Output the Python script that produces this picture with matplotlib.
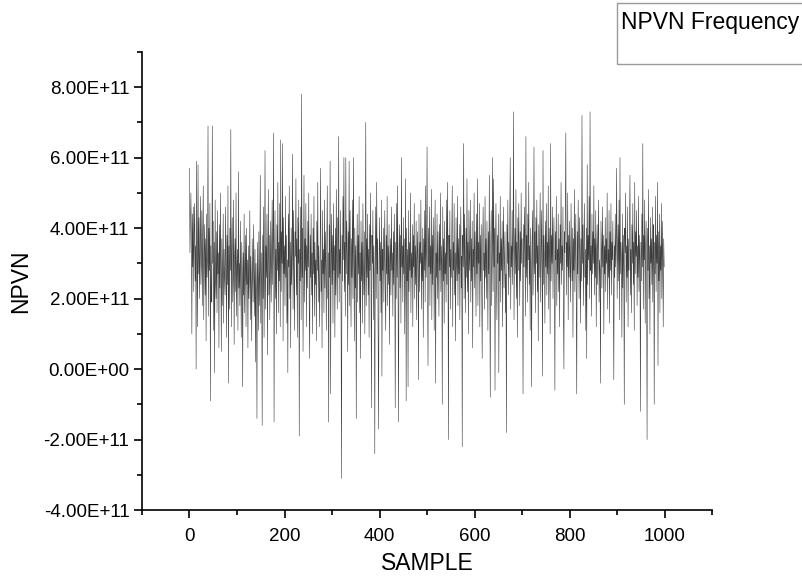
import numpy as np
import matplotlib
matplotlib.use("Agg")
import matplotlib.pyplot as plt
from matplotlib.patches import Rectangle
from matplotlib.ticker import MultipleLocator, FuncFormatter

plt.rcParams['font.family'] = ['Liberation Sans', 'DejaVu Sans']

# NPVN values, in units of 1e10 (sample 0..999)
npvn_e10 = [
    57, 33, 41, 50, 38, 10, 44, 29, 46, 22, 39, 47, 25, 35, 0, 59, 31, 12, 58, 27, 43, 20, 36, 49, 24,
    30, 45, 18, 38, 52, 14, 33, 41, 21, 37, 8, 44, 26, 31, 69, 15, 40, 28, 47, -9, 35, 22, 19, 69, 30,
    42, 11, 36, -1, 48, 25, 20, 39, 16, 45, 27, 33, 6, 41, 23, 50, 29, 5, 37, 18, 31, 44, 13, 34, 26,
    21, 46, 30, 9, 38, 24, 52, -4, 35, 17, 40, 28, 68, 12, 33, 43, 19, 26, 48, 7, 31, 37, 22, 50, 15,
    29, 34, 11, 56, 23, 30, 18, 42, 25, 9, 36, 27, -5, 33, 21, 44, 16, 28, 38, 12, 40, 24, 31, 6, 35,
    20, 27, 45, 14, 32, 23, 8, 37, 26, 19, 41, 29, 15, 34, 2, 30, 22, -14, 36, 25, 11, 39, 18, 28, 55,
    13, 33, 24, -16, 38, 20, 46, 9, 29, 62, 17, 35, 26, 44, 4, 31, 51, 21, 38, 14, 27, 42, 19, 33, 48,
    24, 37, 67, -15, 30, 45, 20, 34, 10, 41, 28, 53, 16, 36, 25, 47, 12, 65, 22, 39, 30, 64, 8, 43, 27,
    35, 18, 49, 26, 38, 13, 31, -1, 44, 29, 52, 20, 36, 6, 40, 24, 33, 61, 17, 45, 28, 11, 39, 32, 54,
    21, 37, 9, 43, 30, 48, -19, 34, 25, 46, 14, 78, 26, 40, 5, 33, 55, 19, 37, 28, 47, 12, 35, 23, 42,
    29, 50, 17, 3, 38, 26, 44, 21, 33, 10, 40, 27, 49, 15, 36, 24, 31, 8, 42, 28, 53, 19, 35, 25, 12,
    37, 57, 22, 31, 6, 45, 27, 34, 16, 48, 23, 39, 29, 11, 36, 52, 20, 33, -15, 41, 26, 59, -7, 30, 44,
    24, 38, 13, 47, 28, 35, 9, 40, 21, 51, 30, 17, 43, 26, 66, 19, 34, 27, 45, 14, -31, 38, 25, 49, 31,
    60, 22, 36, 15, 60, 27, 42, 33, 5, 39, 24, 59, 18, 45, 29, 12, 37, 26, 48, 20, 60, 31, 8, 40, 23,
    35, -14, 30, 44, 19, 38, 27, 49, 16, 33, 3, 42, 25, 36, 13, 47, 29, 21, 39, 10, 32, 70, 18, 37, 26,
    44, 21, 34, 9, 41, 28, 50, 24, -11, 38, 30, 45, 14, 35, 26, -24, 33, 46, 20, 53, 27, 37, 12, -17, 31,
    43, 25, 36, 16, 48, -2, 34, 28, 40, 19, 32, 45, 22, 11, 38, 27, 49, 18, 35, 24, 41, 7, 30, 37, 21,
    46, 28, 33, 15, 39, 24, 44, 30, -11, 36, 20, 47, 26, 52, 17, -15, 34, 41, 23, 38, 13, 60, 29, 35, 19,
    43, 27, 37, 10, 31, 54, -9, 40, 25, 34, -5, 45, 22, 36, 28, 50, 16, 33, 26, 41, 12, 38, 29, 47, 20,
    35, 24, 42, 14, 31, 39, 27, -3, 44, 22, 36, 30, 48, 17, 33, 25, 40, 9, 37, 28, 45, 19, 52, 26, 34,
    63, 23, 1, 40, 29, 46, 18, 35, 27, 51, 14, 38, 24, 43, 31, 11, 36, 48, -4, 33, 26, 44, 20, 39, 29,
    15, 41, 28, 50, 22, 35, 30, -10, 46, 25, 37, 13, 42, 27, 33, 19, 48, 24, 53, 31, -20, 38, 29, 45, 17,
    34, 26, 40, 52, 12, 36, 28, 47, 21, 33, 8, 43, 30, 25, 49, 18, 37, 27, 41, 14, 35, 46, 23, 32, -22,
    38, 29, 64, 20, 44, 31, 16, 40, 26, 54, 22, 36, 10, 45, 28, 33, 48, 19, 37, 25, 42, 6, 34, 29, 50,
    23, 39, 31, 15, 44, 27, 54, 18, 36, 30, 47, 12, 38, 25, 41, 21, 3, 35, 46, 28, 33, 17, 49, 26, 37,
    20, 42, 31, 11, 39, 27, 55, 24, -8, 36, 45, 18, 33, 60, 22, 54, 29, 40, -6, 35, 47, 26, 14, 38, 30,
    44, -1, 33, 25, 49, 19, 37, 28, 42, 12, 34, 46, 23, 31, 39, 16, 27, -18, 41, 30, 48, 21, 36, 26, 43,
    60, 17, 35, 29, 45, 24, 38, 73, 14, 32, 40, 27, 51, 20, 36, 9, 43, 28, 47, 33, 18, 39, 25, 50, 30,
    37, 22, -7, 41, 29, 46, 34, 15, 66, 26, 38, 19, 44, 31, 53, 24, 35, 11, 40, 28, -5, 36, 45, 21, 33,
    63, 27, 39, 16, 43, 30, 48, 22, 35, 8, 41, 26, 37, 50, 19, 32, 45, 28, -2, 62, 24, 38, 31, 13, 42,
    29, 47, 21, 36, 27, 52, 17, 40, 33, 10, 64, 25, 38, 30, 46, 20, 35, 43, 26, -6, 39, 31, 49, 18, 34,
    27, 44, 22, 37, 12, 41, 30, 53, 24, 35, 28, 46, 16, 0, 39, 33, 45, 67, 21, 36, 29, 50, 14, 38, 26,
    42, 31, 19, 47, 34, 25, 40, 9, 37, 28, 51, 22, 35, 44, 16, -7, 39, 27, 48, 31, 20, 43, 33, 13, 37,
    25, 72, 30, 41, 18, 36, 47, 26, 34, 11, 40, 3, 58, 24, 38, 31, 49, 20, 73, 28, 35, 15, 44, 27, 39,
    30, 52, 21, 37, 26, 45, 12, 33, 41, 24, 36, 48, 19, 31, 28, -4, 42, 34, 23, 46, 29, 38, 10, 35, 27,
    43, 22, 37, 30, 50, 17, 34, 26, 45, 13, 39, 28, 47, 21, 36, 31, 42, 18, -3, 35, 26, 44, 29, 38, 57,
    20, 33, 41, 25, 48, 14, 60, 27, 36, 31, 9, 44, 23, 38, 29, -10, 40, 33, 50, 19, 35, 26, 46, 12, 37,
    28, 43, 55, 21, 34, 16, 41, 30, 47, 24, 36, 11, 53, 27, 39, 32, 45, 18, 35, 26, 49, 22, 38, 30, -12,
    36, 25, 44, 29, 64, 17, 38, 31, 48, 13, 34, 42, 26, -20, 40, 28, 51, 20, 35, 10, 43, 30, 37, 24, 46,
    19, 33, 41, -10, 36, 27, 49, 22, 38, 30, 53, 1, 39, 25, 44, 16, 35, 28, 47, 20, 42, 31, 12, 37, 29,
]
sample = np.arange(len(npvn_e10))
npvn = np.array(npvn_e10) * 1e10

fig = plt.figure(figsize=(8.02, 5.83), dpi=100)
ax = fig.add_axes([0.177, 0.125, 0.711, 0.786])

ax.plot(sample, npvn, color='#3c3c3c', lw=0.4)

ax.set_xlim(-100, 1100)
ax.set_ylim(-4e11, 9e11)
ax.xaxis.set_major_locator(MultipleLocator(200))
ax.xaxis.set_minor_locator(MultipleLocator(100))
ax.yaxis.set_major_locator(MultipleLocator(2e11))
ax.yaxis.set_minor_locator(MultipleLocator(1e11))
ax.yaxis.set_major_formatter(FuncFormatter(lambda v, p: '{:.2E}'.format(v)))

for s in ['top', 'right']:
    ax.spines[s].set_visible(False)
for s in ['left', 'bottom']:
    ax.spines[s].set_linewidth(1.2)
ax.tick_params(which='both', direction='out', width=1.2, labelsize=13.5, colors='black')
ax.tick_params(which='major', length=6)
ax.tick_params(which='minor', length=3.5)
ax.tick_params(axis='x', pad=7)
ax.tick_params(axis='y', pad=3)

ax.set_xlabel('SAMPLE', fontsize=16.5, labelpad=5)
ax.set_ylabel('NPVN', fontsize=16.5, labelpad=8)

# legend box in the top right, cut by the figure edge
fig.patches.append(Rectangle((617 / 802, 1 - 64 / 583), 0.3, 61 / 583,
                             transform=fig.transFigure, fill=False,
                             edgecolor='#9a9a9a', lw=1.0))
fig.text(621 / 802, 1 - 22 / 583, 'NPVN Frequency', fontsize=16.5, va='center', ha='left')

fig.savefig('out.png', dpi=100)
